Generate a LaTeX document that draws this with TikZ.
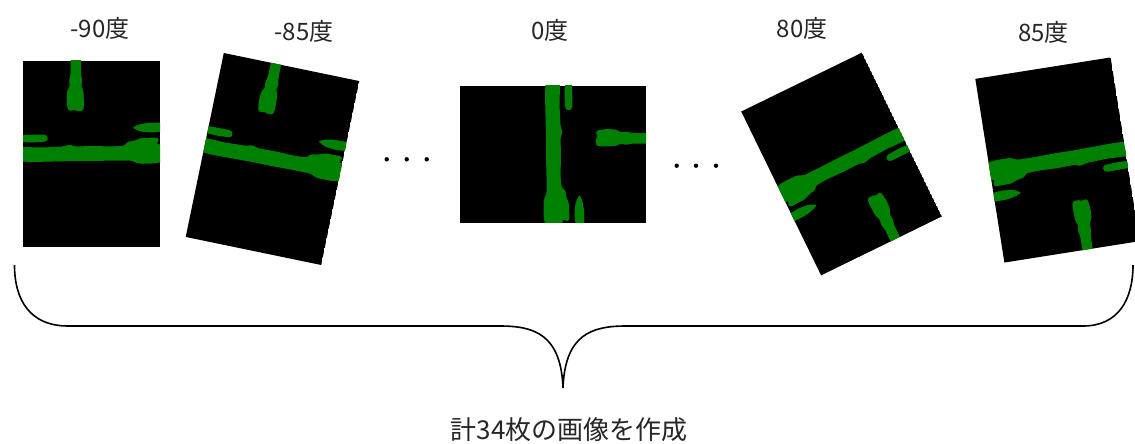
\documentclass[tikz,border=0pt]{standalone}
\usepackage{fontspec}
\setmainfont{Noto Sans CJK JP}
\usepackage{tikz}
\definecolor{leaf}{HTML}{008000}
\definecolor{txt}{HTML}{262626}
\tikzset{
  deglabel/.style={font=\fontsize{24}{28}\selectfont,text=txt,inner sep=0pt},
  sumlabel/.style={font=\fontsize{26}{30}\selectfont,text=txt,inner sep=0pt},
  crack/.style={fill=leaf,rounded corners=1.5pt},
  bracepath/.style={draw=black,line width=1.6pt},
}

\begin{document}
\begin{tikzpicture}[x=1pt,y=-1pt]
  \useasboundingbox (0,0) rectangle (1135,444);
  % rotated masks: centre / angle / scale
  \foreach \cx/\cy/\ang/\sc [count=\i] in {91.5/154/0/1, 272.5/159/-11.7/1.01, 553/154/-90/1, 841.5/164/206/0.98, 1057.5/160/189/1}{
    \begin{scope}[shift={(\cx,\cy)},rotate=\ang,scale=\sc,shift={(-68.5,-93)}]
      \clip (0,0) rectangle (137,186);
      \fill[black] (0,0) rectangle (137,186);
      % vertical crack from the top edge
      \fill[crack] (47.7,-2) -- (58,-2) -- (58,14) -- (59.5,20) -- (58,25) -- (60.5,30) -- (61,45)
        -- (60,50) -- (52,50) -- (51,48) -- (49,50) -- (45,49.5) -- (43.5,40) -- (44,30)
        -- (47,25) -- (46,20) -- (47.5,14) -- cycle;
      % small pieces
      \fill[crack] (-2,74) -- (22,73.5) -- (25,76) -- (24,80.5) -- (10,81.5) -- (-2,81) -- cycle;
      \fill[crack] (109,66.5) -- (116,63.5) -- (124,62) -- (139,61.5) -- (139,70.5) -- (128,71.5) -- (117,70.5) -- cycle;
      % main crack across
      \fill[crack] (-2,86) -- (20,86.5) -- (40,85.5) -- (47,83.5) -- (52,85.5) -- (70,85) -- (90,85.5)
        -- (102,84.5) -- (104,81) -- (112,79.5) -- (118,77) -- (135,76.5) -- (136,80) -- (133,82.5)
        -- (139,84) -- (139,101) -- (130,102.5) -- (115,102.5) -- (108,99.5) -- (90,99.5) -- (70,100)
        -- (50,100) -- (30,100.5) -- (10,101) -- (-2,100.5) -- cycle;
    \end{scope}
  }
  % angle labels
  \foreach \x/\y/\txt [count=\i] in {100/28/-90度, 304/31/-85度, 550/30/0度, 802/28/80度, 1043.5/32/85度}{
    \node[deglabel] (deg\i) at (\x,\y) {\txt};
  }
  % skipped images
  \foreach \x/\y in {386.7/159.3, 406.7/159.3, 426.7/159.3, 676.7/165.7, 696/165.7, 716/165.7}{
    \fill (\x,\y) circle (2.2);
  }
  % brace
  \coordinate (bw) at (14.5,265);
  \coordinate (tip) at (563,388);
  \coordinate (be) at (1133,265);
  \draw[bracepath] (bw) .. controls (14.5,300) and (30,326) .. (68,326) -- (500,326)
    .. controls (535,326) and (561,335) .. (tip)
    .. controls (565,335) and (591,326) .. (626,326) -- (1083,326)
    .. controls (1118,326) and (1133,300) .. (be);
  \node[sumlabel] (total) at (569,430) {計34枚の画像を作成};
\end{tikzpicture}
\end{document}
